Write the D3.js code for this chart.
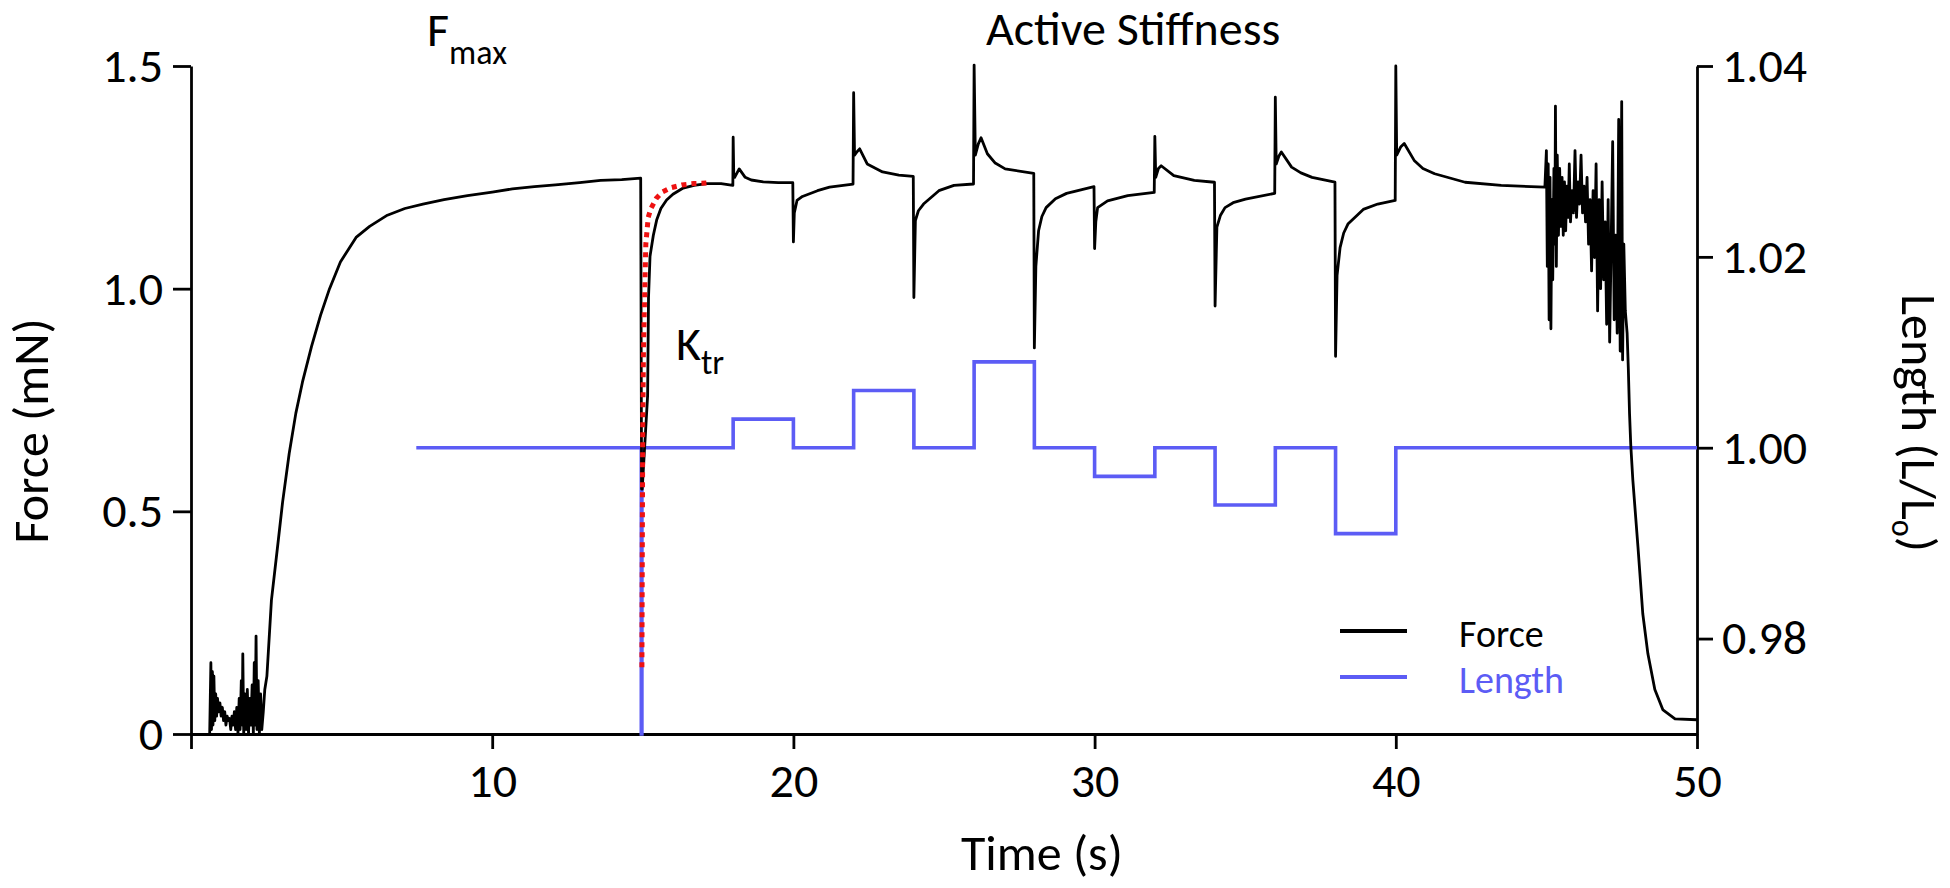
<!DOCTYPE html>
<html>
<head>
<meta charset="utf-8">
<script src="https://cdn.jsdelivr.net/npm/d3@7"></script>
<style>
  html, body { margin: 0; padding: 0; background: #ffffff; }
  svg text { font-family: Carlito, Lato, "Open Sans", sans-serif; fill: #000; }
</style>
</head>
<body>
<svg id="chart" width="1950" height="888"></svg>
<script>
// ---------------- DATA ----------------
const forceTime = [
  0.62,0.66,0.68,0.71,0.73,0.76,0.79,0.82,0.85,0.88,0.92,0.96,1.00,1.04,1.08,1.12,1.16,1.20,1.24,1.28,
  1.32,1.36,1.40,1.44,1.48,1.52,1.56,1.60,1.63,1.67,1.70,1.72,1.75,1.79,1.83,1.87,1.91,1.95,1.99,2.03,
  2.07,2.10,2.13,2.16,2.19,2.23,2.27,2.31,2.35,2.40,
  2.45,2.52,2.67,2.89,3.04,3.26,3.48,3.70,4.00,4.30,4.60,4.96,5.48,5.93,6.52,7.10,7.70,8.40,9.18,10.0,
  10.67,11.4,12.1,12.9,13.6,14.3,14.93,
  14.96,14.98,15.16,15.19,15.24,15.35,15.46,15.6,15.79,16.0,16.34,16.7,17.12,17.6,17.99,
  18.00,18.02,18.05,18.2,18.4,18.6,19.0,19.5,19.98,
  20.0,20.03,20.12,20.3,20.8,21.2,21.98,
  22.0,22.03,22.12,22.2,22.45,22.96,23.5,23.98,
  24.0,24.05,24.15,24.32,24.83,25.33,25.98,
  26.0,26.04,26.14,26.23,26.44,26.7,27.03,27.98,
  28.0,28.05,28.14,28.25,28.39,28.7,29.07,29.98,
  30.0,30.04,30.1,30.43,31.1,31.98,
  32.0,32.03,32.12,32.21,32.63,33.31,33.98,
  34.0,34.06,34.18,34.33,34.6,35.01,35.98,
  36.0,36.03,36.12,36.2,36.54,36.85,37.22,37.98,
  38.0,38.05,38.15,38.27,38.41,38.92,39.4,39.98,
  40.0,40.03,40.16,40.28,40.61,40.9,41.29,42.3,43.5,44.95,
  45.0,45.03,45.06,45.09,45.12,45.15,45.18,45.21,45.25,45.28,45.3,45.33,45.36,45.4,45.44,45.48,45.52,
  45.56,45.6,45.64,45.68,45.72,45.76,45.8,45.85,45.9,45.95,46.0,46.05,46.1,46.15,46.2,46.25,46.3,46.35,
  46.4,46.45,46.5,46.55,46.6,46.65,46.7,46.75,46.8,46.85,46.9,46.95,47.0,47.05,47.1,47.15,47.2,47.25,
  47.3,47.35,47.4,47.45,47.5,47.53,47.57,47.62,47.68,47.72,47.76,47.8,47.87,48.04,48.2,48.37,48.6,
  48.87,49.27,50.0
];
const forceValue = [
  0.00,0.16,0.01,0.14,0.02,0.13,0.03,0.09,0.04,0.08,0.05,0.07,0.04,0.06,0.03,0.05,0.02,0.04,0.03,0.035,
  0.01,0.04,0.02,0.05,0.01,0.06,0.00,0.08,0.01,0.12,0.02,0.18,0.00,0.09,0.01,0.10,0.00,0.08,0.02,0.11,
  0.00,0.16,0.02,0.22,0.01,0.12,0.00,0.09,0.01,0.05,
  0.10,0.13,0.30,0.43,0.52,0.63,0.72,0.79,0.87,0.94,1.00,1.06,1.115,1.14,1.165,1.18,1.19,1.20,1.209,1.217,
  1.224,1.229,1.233,1.238,1.243,1.245,1.248,
  0.55,0.55,0.76,0.98,1.073,1.12,1.154,1.18,1.199,1.212,1.226,1.232,1.236,1.236,1.232,
  1.34,1.255,1.25,1.269,1.25,1.244,1.24,1.238,1.238,
  1.105,1.17,1.198,1.207,1.22,1.228,1.235,
  1.44,1.30,1.308,1.314,1.28,1.262,1.255,1.252,
  0.98,1.153,1.175,1.19,1.22,1.232,1.235,
  1.502,1.30,1.325,1.339,1.303,1.282,1.269,1.259,
  0.867,1.05,1.13,1.162,1.182,1.202,1.214,1.229,
  1.09,1.15,1.182,1.197,1.209,1.216,
  1.342,1.25,1.27,1.276,1.254,1.243,1.239,
  0.961,1.138,1.165,1.182,1.193,1.201,1.214,
  1.43,1.28,1.298,1.307,1.273,1.26,1.25,1.239,
  0.848,1.03,1.092,1.125,1.145,1.178,1.19,1.198,
  1.50,1.30,1.318,1.326,1.288,1.27,1.258,1.239,1.232,1.228,
  1.31,1.05,1.28,0.93,1.25,0.91,1.2,1.02,1.27,1.1,1.41,1.05,1.3,1.12,1.27,1.14,1.25,
  1.12,1.24,1.13,1.23,1.16,1.28,1.15,1.22,1.17,1.31,1.16,1.24,1.19,1.3,1.17,1.23,1.15,1.25,
  1.1,1.2,1.04,1.22,1.07,1.28,0.95,1.2,1.0,1.24,1.02,1.15,0.92,1.2,0.88,1.1,1.33,0.93,
  1.12,0.9,1.38,0.86,1.42,0.84,1.1,0.95,0.9,0.82,0.72,0.65,0.57,0.42,0.27,0.18,0.1,
  0.054,0.034,0.032
];

const fitTime  = [14.97,14.98,14.99,15.0,15.02,15.05,15.1,15.18,15.27,15.45,15.65,15.95,16.3,16.7,17.1,17.25];
const fitValue = [0.15,0.35,0.55,0.7,0.85,0.95,1.1,1.16,1.18,1.203,1.217,1.227,1.233,1.236,1.237,1.238];

const lengthTime  = [7.48,14.95,14.97,18,20,22,24,26,28,30,32,34,36,38,40,50];
const lengthValue = [1.000,0.970,1.000,1.003,1.000,1.006,1.000,1.009,1.000,0.997,1.000,0.994,1.000,0.991,1.000,1.000];

const xTicks = [0,10,20,30,40,50];
const xTickLabels = ["","10","20","30","40","50"];
const leftTicks = [0,0.5,1.0,1.5];
const leftTickLabels = ["0","0.5","1.0","1.5"];
const rightTicks = [0.98,1.00,1.02,1.04];
const rightTickLabels = ["0.98","1.00","1.02","1.04"];
const legendLabels = ["Force","Length"];

// ---------------- DRAW ----------------
const BLACK = "#000000", BLUE = "#5c5cf5", RED = "#ee1111";
const svg = d3.select("#chart");
svg.append("rect").attr("width",1950).attr("height",888).attr("fill","#fff");

const x = d3.scaleLinear().domain([0,50]).range([191,1697]);
const yL = d3.scaleLinear().domain([0,1.5]).range([734,66]);
const yR = d3.scaleLinear().domain([0.97,1.04]).range([734,66]);

// axes
const ax = svg.append("g").attr("transform","translate(0,734)")
  .call(d3.axisBottom(x).tickValues(xTicks).tickFormat((d,i)=>xTickLabels[i]).tickSize(15).tickSizeOuter(0).tickPadding(14));
const al = svg.append("g").attr("transform","translate(191,0)")
  .call(d3.axisLeft(yL).tickValues(leftTicks).tickFormat((d,i)=>leftTickLabels[i]).tickSize(18).tickSizeOuter(0).tickPadding(10));
const ar = svg.append("g").attr("transform","translate(1697,0)")
  .call(d3.axisRight(yR).tickValues(rightTicks).tickFormat((d,i)=>rightTickLabels[i]).tickSize(16).tickSizeOuter(0).tickPadding(9));
[ax,al,ar].forEach(g=>{
  g.selectAll("path.domain").attr("stroke","#000").attr("stroke-width",2.8);
  g.selectAll(".tick line").attr("stroke","#000").attr("stroke-width",2.8);
  g.selectAll(".tick text").attr("font-size",48).attr("fill","#000")
    .style("font-family","Carlito, Lato, 'Open Sans', sans-serif");
});

// length (blue)
const lenData = lengthTime.map((t,i)=>({t, v:lengthValue[i]}));
svg.append("path").datum(lenData)
  .attr("fill","none").attr("stroke",BLUE).attr("stroke-width",3.6)
  .attr("d", d3.line().x(d=>x(d.t)).y(d=>yR(d.v)).curve(d3.curveStepAfter));

// force (black)
const fData = forceTime.map((t,i)=>({t, v:forceValue[i]}));
svg.append("path").datum(fData)
  .attr("fill","none").attr("stroke",BLACK).attr("stroke-width",2.8).attr("stroke-linejoin","round")
  .attr("d", d3.line().x(d=>x(d.t)).y(d=>yL(d.v)));

// ktr fit (red dotted)
const fitData = fitTime.map((t,i)=>({t, v:fitValue[i]}));
svg.append("path").datum(fitData)
  .attr("fill","none").attr("stroke",RED).attr("stroke-width",5).attr("stroke-dasharray","5,5")
  .attr("d", d3.line().x(d=>x(d.t)).y(d=>yL(d.v)));

// annotations
const fmax = svg.append("text").attr("x",427).attr("y",46).attr("font-size",48);
fmax.append("tspan").text("F");
fmax.append("tspan").attr("dy",18).attr("font-size",34).text("max");

svg.append("text").attr("x",986).attr("y",45).attr("font-size",48).text("Active Stiffness");

const ktr = svg.append("text").attr("x",676).attr("y",360).attr("font-size",48);
ktr.append("tspan").text("K");
ktr.append("tspan").attr("dy",14).attr("font-size",34).text("tr");

// axis titles
svg.append("text").attr("x",961).attr("y",870).attr("font-size",50).text("Time (s)");
svg.append("text").attr("transform","translate(48,431) rotate(-90)")
  .attr("text-anchor","middle").attr("font-size",50).text("Force (mN)");
const lt = svg.append("text").attr("transform","translate(1902,423) rotate(90)")
  .attr("text-anchor","middle").attr("font-size",50);
lt.append("tspan").text("Length (L/L");
lt.append("tspan").attr("dy",10).attr("font-size",32).text("o");
lt.append("tspan").attr("dy",-10).text(")");

// legend
const legend = svg.append("g");
const legColors = [BLACK, BLUE];
legendLabels.forEach((lab,i)=>{
  const yy = 631 + i*46;
  legend.append("line").attr("x1",1340).attr("x2",1407).attr("y1",yy).attr("y2",yy)
    .attr("stroke",legColors[i]).attr("stroke-width",4);
  legend.append("text").attr("x",1459).attr("y",yy+16).attr("font-size",38)
    .style("fill",legColors[i]).text(lab);
});
</script>
</body>
</html>
